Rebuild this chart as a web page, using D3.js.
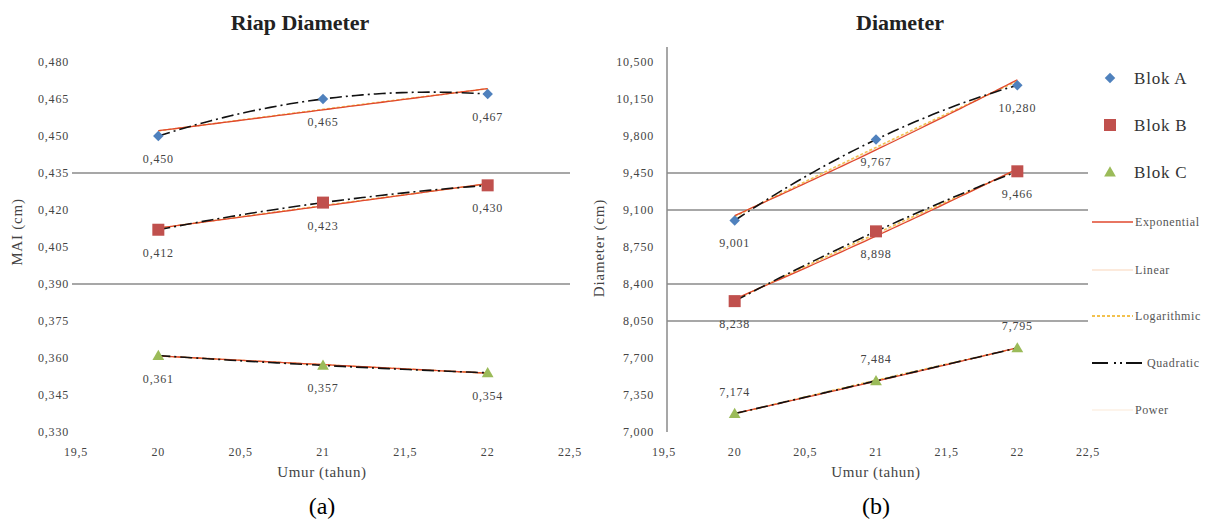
<!DOCTYPE html>
<html>
<head>
<meta charset="utf-8">
<script src="https://cdn.jsdelivr.net/npm/d3@7"></script>
<style>
  body { margin: 0; background: #fff; }
  svg { display: block; }
</style>
</head>
<body>
<div id="chart"></div>
<script>
// data
const umur = [20, 21, 22]
const maiBlokA = [0.450, 0.465, 0.467]
const maiBlokB = [0.412, 0.423, 0.430]
const maiBlokC = [0.361, 0.357, 0.354]
const diamBlokA = [9.001, 9.767, 10.280]
const diamBlokB = [8.238, 8.898, 9.466]
const diamBlokC = [7.174, 7.484, 7.795]
const xTicks = [19.5, 20, 20.5, 21, 21.5, 22, 22.5]
const maiTicks = [0.330, 0.345, 0.360, 0.375, 0.390, 0.405, 0.420, 0.435, 0.450, 0.465, 0.480]
const diamTicks = [7.000, 7.350, 7.700, 8.050, 8.400, 8.750, 9.100, 9.450, 9.800, 10.150, 10.500]
const maiGrid = [0.435, 0.390]
const diamGrid = [9.450, 9.100, 8.400, 8.050]
const blokNames = ["Blok A", "Blok B", "Blok C"]
const trendNames = ["Exponential", "Linear", "Logarithmic", "Quadratic", "Power"]

const width = 1212, height = 522
const serif = "'Liberation Serif', 'DejaVu Serif', serif"
const colors = ["#4f81bd", "#c0504d", "#9bbb59"]

const loc = d3.formatLocale({ decimal: ",", thousands: ".", grouping: [3], currency: ["", ""] })
const f3 = loc.format(".3f")
const fx = d => loc.format("~g")(d)

const svg = d3.select("#chart").append("svg")
  .attr("width", width).attr("height", height)
  .attr("viewBox", [0, 0, width, height])
  .style("font-family", serif)

// regresi sederhana
function linReg(xs, ys) {
  const mx = d3.mean(xs), my = d3.mean(ys)
  let sxy = 0, sxx = 0
  xs.forEach((x, i) => { sxy += (x - mx) * (ys[i] - my); sxx += (x - mx) * (x - mx) })
  const b = sxy / sxx
  return [my - b * mx, b]
}
function trends(xs, ys) {
  const lin = linReg(xs, ys)
  const ex = linReg(xs, ys.map(Math.log))
  const lg = linReg(xs.map(Math.log), ys)
  const pw = linReg(xs.map(Math.log), ys.map(Math.log))
  const quad = x => {
    let s = 0
    for (let i = 0; i < 3; i++) {
      let t = ys[i]
      for (let j = 0; j < 3; j++) if (j !== i) t *= (x - xs[j]) / (xs[i] - xs[j])
      s += t
    }
    return s
  }
  return {
    Linear: x => lin[0] + lin[1] * x,
    Exponential: x => Math.exp(ex[0] + ex[1] * x),
    Logarithmic: x => lg[0] + lg[1] * Math.log(x),
    Power: x => Math.exp(pw[0] + pw[1] * Math.log(x)),
    Quadratic: quad
  }
}

const trendStyle = {
  Linear: { stroke: "#fbe3d0", width: 1, dash: null },
  Power: { stroke: "#fdf0e4", width: 1, dash: null },
  Logarithmic: { stroke: "#f2c14e", width: 1.5, dash: "3,2" },
  Exponential: { stroke: "#e0482e", width: 1.3, dash: null },
  Quadratic: { stroke: "#111", width: 1.6, dash: "12,4,2,4" }
}

function marker(g, i, x, y) {
  if (i === 0) {
    g.append("path").attr("d", d3.symbol(d3.symbolDiamond2, 70)())
      .attr("transform", `translate(${x},${y})`).attr("fill", colors[0])
  } else if (i === 1) {
    g.append("rect").attr("x", x - 6).attr("y", y - 6).attr("width", 12).attr("height", 12)
      .attr("fill", colors[1])
  } else {
    g.append("path").attr("d", d3.symbol(d3.symbolTriangle, 60)())
      .attr("transform", `translate(${x},${y + 1})`).attr("fill", colors[2])
  }
}

function drawChart(opt) {
  const { xRange, yDomain, yRange, ticks, grid, series, title, titleX, yTitle, yTitleX,
    yTitleY, xTitleX, caption, axisLine, labelAbove, tickRight, gridX0 } = opt
  const x = d3.scaleLinear().domain([19.5, 22.5]).range(xRange)
  const y = d3.scaleLinear().domain(yDomain).range(yRange)
  const g = svg.append("g")

  // gridlines
  g.selectAll(null).data(grid).join("line")
    .attr("x1", gridX0).attr("x2", xRange[1])
    .attr("y1", d => y(d)).attr("y2", d => y(d))
    .attr("stroke", "#8a8a8a").attr("stroke-width", 1.5)

  if (axisLine) {
    g.append("line").attr("x1", xRange[0] + 3).attr("x2", xRange[0] + 3)
      .attr("y1", 47).attr("y2", y(yDomain[0]))
      .attr("stroke", "#8a8a8a").attr("stroke-width", 1.5)
  }

  // y ticks
  g.selectAll(null).data(ticks).join("text")
    .attr("x", tickRight).attr("y", d => y(d) + 4)
    .attr("text-anchor", "end").attr("font-size", 12).attr("letter-spacing", 0.8)
    .attr("fill", "#444").text(f3)
  // x ticks
  g.selectAll(null).data(xTicks).join("text")
    .attr("x", d => x(d)).attr("y", 456)
    .attr("text-anchor", "middle").attr("font-size", 12).attr("letter-spacing", 0.8)
    .attr("fill", "#444").text(fx)

  // trendlines
  const xs = d3.range(20, 22.0001, 0.04)
  series.forEach(ys => {
    const t = trends(umur, ys)
    ;["Power", "Linear", "Logarithmic", "Exponential", "Quadratic"].forEach(k => {
      const st = trendStyle[k]
      g.append("path")
        .attr("d", d3.line().x(d => x(d)).y(d => y(t[k](d)))(xs))
        .attr("fill", "none").attr("stroke", st.stroke).attr("stroke-width", st.width)
        .attr("stroke-dasharray", st.dash)
    })
  })

  // markers + labels
  series.forEach((ys, i) => {
    ys.forEach((v, j) => {
      marker(g, i, x(umur[j]), y(v))
      const above = labelAbove[i]
      g.append("text")
        .attr("x", x(umur[j])).attr("y", y(v) + (above ? -18 : 27))
        .attr("text-anchor", "middle").attr("font-size", 12).attr("letter-spacing", 0.8)
        .attr("fill", "#444").text(f3(v))
    })
  })

  // titles
  g.append("text").attr("x", titleX).attr("y", 30).attr("text-anchor", "middle")
    .attr("font-size", 22).attr("font-weight", "bold").attr("fill", "#222").text(title)
  g.append("text").attr("transform", `translate(${yTitleX},${yTitleY}) rotate(-90)`)
    .attr("text-anchor", "middle").attr("font-size", 15).attr("letter-spacing", 0.8)
    .attr("fill", "#444").text(yTitle)
  g.append("text").attr("x", xTitleX).attr("y", 477).attr("text-anchor", "middle")
    .attr("font-size", 15).attr("letter-spacing", 0.6).attr("fill", "#444").text("Umur (tahun)")
  g.append("text").attr("x", xTitleX).attr("y", 514).attr("text-anchor", "middle")
    .attr("font-size", 24).attr("fill", "#000").text(caption)
}

drawChart({
  xRange: [76, 570], yDomain: [0.330, 0.480], yRange: [432, 62],
  ticks: maiTicks, grid: maiGrid, series: [maiBlokA, maiBlokB, maiBlokC],
  title: "Riap Diameter", titleX: 300, yTitle: "MAI (cm)", yTitleX: 22, yTitleY: 232,
  xTitleX: 322, caption: "(a)", axisLine: false, labelAbove: [false, false, false],
  tickRight: 69, gridX0: 72
})

drawChart({
  xRange: [664, 1088], yDomain: [7.0, 10.5], yRange: [432, 62],
  ticks: diamTicks, grid: diamGrid, series: [diamBlokA, diamBlokB, diamBlokC],
  title: "Diameter", titleX: 900, yTitle: "Diameter (cm)", yTitleX: 604, yTitleY: 248,
  xTitleX: 876, caption: "(b)", axisLine: true, labelAbove: [false, false, true],
  tickRight: 654, gridX0: 667
})

// legend
const lg = svg.append("g")
blokNames.forEach((n, i) => {
  const yy = [78, 125, 172][i]
  marker(lg, i, 1110, yy)
  lg.append("text").attr("x", 1134).attr("y", yy + 6).attr("font-size", 17)
    .attr("letter-spacing", 0.8).attr("fill", "#333").text(n)
})
trendNames.forEach((n, i) => {
  const yy = [222, 270, 316, 363, 410][i]
  const st = trendStyle[n]
  const x1 = n === "Quadratic" ? 1145 : 1133
  lg.append("line").attr("x1", 1092).attr("x2", x1).attr("y1", yy).attr("y2", yy)
    .attr("stroke", st.stroke).attr("stroke-width", st.width + 0.4)
    .attr("stroke-dasharray", n === "Quadratic" ? "16,6,2,4,2,4" : st.dash)
  lg.append("text").attr("x", x1 + 2).attr("y", yy + 4).attr("font-size", 12)
    .attr("letter-spacing", 0.6).attr("fill", "#555").text(n)
})
</script>
</body>
</html>
